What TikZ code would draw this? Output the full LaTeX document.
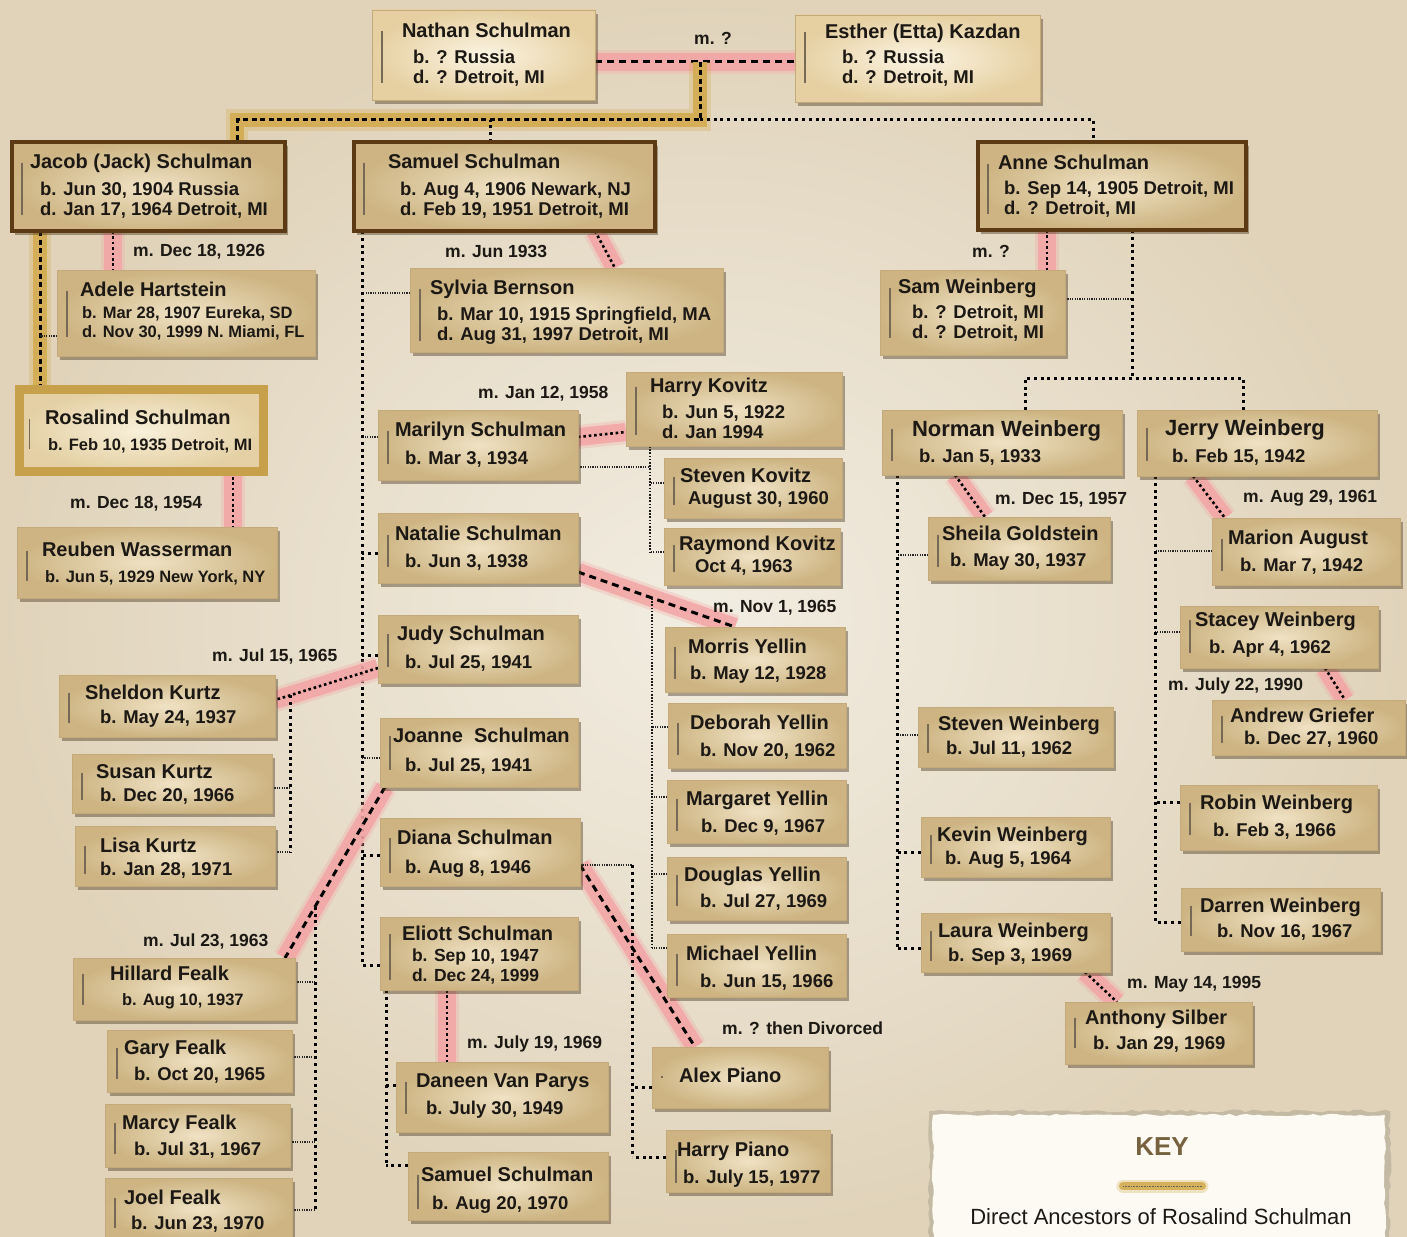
\documentclass[tikz,border=0pt]{standalone}
\usepackage{fontspec}
\setmainfont{Liberation Sans}
\usetikzlibrary{calc,shadows,decorations.pathmorphing}
\pgfdeclarelayer{paper}
\pgfdeclarelayer{links}
\pgfsetlayers{paper,links,main}
\definecolor{paperlight}{RGB}{242,237,226}
\definecolor{paperdark}{RGB}{224,211,186}
\definecolor{boxin}{RGB}{239,226,196}
\definecolor{boxout}{RGB}{205,180,130}
\definecolor{boxedge}{RGB}{196,170,122}
\definecolor{topin}{RGB}{251,244,226}
\definecolor{topout}{RGB}{230,208,162}
\definecolor{rosin}{RGB}{248,240,218}
\definecolor{rosout}{RGB}{228,208,164}
\definecolor{brownb}{RGB}{92,58,20}
\definecolor{goldb}{RGB}{198,160,74}
\definecolor{mpink}{RGB}{243,165,165}
\definecolor{goldln}{RGB}{212,172,80}
\definecolor{ink}{RGB}{28,24,20}
\definecolor{barc}{RGB}{118,106,86}
\definecolor{keyfill}{RGB}{252,250,242}
\definecolor{keytitle}{RGB}{118,98,62}
\newcommand\nm[1]{{\fontsize{20}{22}\selectfont #1}}
\newcommand\nmL[1]{{\fontsize{22}{24}\selectfont #1}}
\newcommand\indt[1]{\hspace*{#1pt}}
% id, style, x,y, w, h, dx, dy, text options, content
\newcommand\person[9]{%
  \node[#2,minimum width=#4pt,minimum height=#5pt,anchor=north west] (#1) at (#3) {};
  \node[ptext,#8,anchor=north west] (#1-t) at ($(#1.north west)+(#6,#7)$) {#9};
  \draw[bar] ($(#1-t.north -| #1.west)+(10,8)$) -- ($(#1-t.south -| #1.west)+(10,-4)$);
}
% style, bus coordinate, child node, anchor, yshift
\newcommand\kid[5]{%
  \coordinate (k-#3) at ([yshift=#5pt]#3.#4);
  \draw[#1] (k-#3) -- (#2 |- k-#3);
}
\begin{document}
\begin{tikzpicture}[x=1pt,y=-1pt,
  pshadow/.style={drop shadow={shadow xshift=3pt,shadow yshift=-4pt,opacity=.45,fill={rgb,255:red,80;green,62;blue,35}}},
  pbox/.style={inner color=boxin,outer color=boxout,draw=boxedge,line width=.6pt,inner sep=0pt,outer sep=0pt,pshadow},
  pboxtop/.style={pbox,inner color=topin,outer color=topout},
  pboxbrown/.style={pbox,draw=brownb,line width=4.5pt},
  pboxgold/.style={pbox,draw=goldb,line width=9pt,inner color=rosin,outer color=rosout},
  ptext/.style={inner sep=0pt,outer sep=0pt,align=left,text=ink,font=\bfseries\fontsize{18.5}{20}\selectfont},
  ds/.style={font=\bfseries\fontsize{16.5}{19.5}\selectfont},
  de/.style={font=\bfseries\fontsize{17.5}{20}\selectfont},
  bar/.style={draw=barc,line width=1.1pt},
  mlab/.style={inner sep=0pt,anchor=west,text=ink,font=\bfseries\fontsize{17.5}{20}\selectfont},
  marr/.style={preaction={draw=mpink,line width=24pt,solid,draw opacity=.3,line cap=butt},
               preaction={draw=mpink,line width=18pt,solid,draw opacity=.85,line cap=butt},
               draw=black,line width=2.6pt,dash pattern=on 2.6pt off 2.8pt},
  marrdash/.style={marr,line width=3pt,dash pattern=on 7pt off 5pt},
  gold/.style={preaction={draw=goldln,line width=22pt,solid,draw opacity=.3},
               preaction={draw=goldln,line width=14pt,solid,draw opacity=.9},
               draw=black,line width=3pt,dash pattern=on 5pt off 3.5pt},
  goldk/.style={preaction={draw=goldln,line width=13pt,solid,draw opacity=.3,line cap=round},
               preaction={draw=goldln,line width=8pt,solid,draw opacity=.9,line cap=round},
               draw=black!60,line width=1pt,dash pattern=on .8pt off .8pt},
  bus/.style={draw=black,line width=3pt,dash pattern=on 3pt off 3.8pt},
  bus2/.style={draw=black!90,line width=2.5pt,dash pattern=on 1.6pt off 1.6pt},
  tick/.style={draw=black!85,line width=1.8pt,dash pattern=on 1.2pt off 1.2pt},
]
\useasboundingbox (0,0) rectangle (1407,1236);
\begin{pgfonlayer}{paper}
  \shade[inner color=paperlight,outer color=paperdark] (0,0) rectangle (1407,1236);
\end{pgfonlayer}

% ---------- generation 1
\person{nathan}{pboxtop}{372,10}{223}{90}{30}{13.5}{}{\nm{Nathan Schulman}\\[6pt]\indt{11}b. ? Russia\\\indt{11}d. ? Detroit, MI}
\person{esther}{pboxtop}{795,15}{245}{87}{30}{9.5}{}{\nm{Esther (Etta) Kazdan}\\[5pt]\indt{17}b. ? Russia\\\indt{17}d. ? Detroit, MI}

% ---------- generation 2
\person{jacob}{pboxbrown}{12,142}{273}{89}{18}{12.5}{}{\nm{Jacob (Jack) Schulman}\\[7pt]\indt{10}b. Jun 30, 1904 Russia\\\indt{10}d. Jan 17, 1964 Detroit, MI}
\person{samuel}{pboxbrown}{354,142}{301}{89}{34}{12.5}{}{\nm{Samuel Schulman}\\[7pt]\indt{12}b. Aug 4, 1906 Newark, NJ\\\indt{12}d. Feb 19, 1951 Detroit, MI}
\person{anne}{pboxbrown}{978,142}{268}{88}{20}{13.5}{}{\nm{Anne Schulman}\\[5pt]\indt{6}b. Sep 14, 1905 Detroit, MI\\\indt{6}d. ? Detroit, MI}
\person{adele}{pbox}{57,270}{258}{86}{23}{12.5}{ds}{\nm{Adele Hartstein}\\[2pt]\indt{2}b. Mar 28, 1907 Eureka, SD\\\indt{2}d. Nov 30, 1999 N. Miami, FL}
\person{sylvia}{pbox}{410,268}{313}{84}{20}{12.5}{}{\nm{Sylvia Bernson}\\[6pt]\indt{7}b. Mar 10, 1915 Springfield, MA\\\indt{7}d. Aug 31, 1997 Detroit, MI}
\person{samw}{pbox}{880,270}{185}{85}{18}{9.5}{}{\nm{Sam Weinberg}\\[5pt]\indt{14}b. ? Detroit, MI\\\indt{14}d. ? Detroit, MI}

% ---------- generation 3, left
\person{rosalind}{pboxgold}{19.5,389.5}{244}{82}{25.5}{21}{ds}{\nm{Rosalind Schulman}\\[6pt]\indt{3}b. Feb 10, 1935 Detroit, MI}
\person{reuben}{pbox}{17,527}{260}{71}{25}{15.5}{ds}{\nm{Reuben Wasserman}\\[6pt]\indt{3}b. Jun 5, 1929 New York, NY}

% ---------- Samuel's children
\person{marilyn}{pbox}{378,410}{200}{70}{17}{12.5}{}{\nm{Marilyn Schulman}\\[8pt]\indt{10}b. Mar 3, 1934}
\person{natalie}{pbox}{378,513}{200}{70}{17}{13.5}{}{\nm{Natalie Schulman}\\[7pt]\indt{10}b. Jun 3, 1938}
\person{judy}{pbox}{378,615}{200}{68}{19}{10.5}{}{\nm{Judy Schulman}\\[8pt]\indt{8}b. Jul 25, 1941}
\person{joanne}{pbox}{380,718}{198}{69}{13}{9.5}{}{\nm{Joanne\ \ Schulman}\\[9pt]\indt{12}b. Jul 25, 1941}
\person{diana}{pbox}{380,818}{200}{68}{17}{11.5}{}{\nm{Diana Schulman}\\[9pt]\indt{8}b. Aug 8, 1946}
\person{eliott}{pbox}{380,917}{198}{73}{22}{8.5}{de}{\nm{Eliott Schulman}\\[1pt]\indt{10}b. Sep 10, 1947\\\indt{10}d. Dec 24, 1999}
\person{daneen}{pbox}{396,1062}{212}{70}{20}{11.5}{}{\nm{Daneen Van Parys}\\[7pt]\indt{10}b. July 30, 1949}
\person{samuel2}{pbox}{408,1152}{200}{68}{13}{14.5}{}{\nm{Samuel Schulman}\\[8pt]\indt{11}b. Aug 20, 1970}

% ---------- Kovitz
\person{harryk}{pbox}{626,372}{216}{74}{24}{6.5}{}{\nm{Harry Kovitz}\\[6pt]\indt{12}b. Jun 5, 1922\\\indt{12}d. Jan 1994}
\person{stevenk}{pbox}{664,458}{178}{60}{16}{10.5}{}{\nm{Steven Kovitz}\\[2pt]\indt{8}August 30, 1960}
\person{raymond}{pbox}{664,528}{176}{57}{15}{8.5}{}{\nm{Raymond Kovitz}\\[2pt]\indt{16}Oct 4, 1963}

% ---------- Yellin
\person{morris}{pbox}{665,627}{180}{65}{23}{11.5}{}{\nm{Morris Yellin}\\[6pt]\indt{2}b. May 12, 1928}
\person{deborah}{pbox}{668,703}{178}{65}{22}{11.5}{}{\nm{Deborah Yellin}\\[7pt]\indt{10}b. Nov 20, 1962}
\person{margaret}{pbox}{667,780}{179}{63}{19}{10.5}{}{\nm{Margaret Yellin}\\[7pt]\indt{15}b. Dec 9, 1967}
\person{douglas}{pbox}{667,857}{179}{63}{17}{9.5}{}{\nm{Douglas Yellin}\\[6pt]\indt{16}b. Jul 27, 1969}
\person{michael}{pbox}{667,934}{179}{63}{19}{11.5}{}{\nm{Michael Yellin}\\[7pt]\indt{14}b. Jun 15, 1966}

% ---------- Piano
\person{alex}{pbox}{652,1047}{176}{61}{27}{20.5}{}{\nm{Alex Piano}}
\person{harryp}{pbox}{666,1130}{164}{62}{11}{11.5}{}{\nm{Harry Piano}\\[7pt]\indt{6}b. July 15, 1977}

% ---------- Kurtz
\person{sheldon}{pbox}{59,675}{216}{62}{26}{9.5}{}{\nm{Sheldon Kurtz}\\[4pt]\indt{15}b. May 24, 1937}
\person{susan}{pbox}{72,754}{200}{59}{24}{10.5}{}{\nm{Susan Kurtz}\\[3pt]\indt{4}b. Dec 20, 1966}
\person{lisa}{pbox}{75,826}{200}{60}{25}{11.5}{}{\nm{Lisa Kurtz}\\[3pt]b. Jan 28, 1971}

% ---------- Fealk
\person{hillard}{pbox}{73,958}{222}{62}{37}{7.5}{ds}{\nm{Hillard Fealk}\\[6pt]\indt{12}b. Aug 10, 1937}
\person{gary}{pbox}{107,1030}{185}{62}{17}{9.5}{}{\nm{Gary Fealk}\\[6pt]\indt{10}b. Oct 20, 1965}
\person{marcy}{pbox}{105,1104}{185}{63}{17}{10.5}{}{\nm{Marcy Fealk}\\[6pt]\indt{12}b. Jul 31, 1967}
\person{joel}{pbox}{105,1178}{187}{62}{19}{11.5}{}{\nm{Joel Fealk}\\[5pt]\indt{7}b. Jun 23, 1970}

% ---------- Weinberg
\person{norman}{pbox}{882,410}{240}{65}{30}{10.5}{}{\nmL{Norman Weinberg}\\[6pt]\indt{7}b. Jan 5, 1933}
\person{jerry}{pbox}{1137,410}{240}{66}{28}{9.5}{}{\nmL{Jerry Weinberg}\\[7pt]\indt{7}b. Feb 15, 1942}
\person{sheila}{pbox}{928,517}{182}{63}{14}{9.5}{}{\nm{Sheila Goldstein}\\[6pt]\indt{8}b. May 30, 1937}
\person{stevenw}{pbox}{918,707}{195}{60}{20}{8.5}{}{\nm{Steven Weinberg}\\[4pt]\indt{8}b. Jul 11, 1962}
\person{kevin}{pbox}{921,817}{189}{60}{16}{9.5}{}{\nm{Kevin Weinberg}\\[3pt]\indt{8}b. Aug 5, 1964}
\person{laura}{pbox}{921,913}{189}{59}{17}{9.5}{}{\nm{Laura Weinberg}\\[4pt]\indt{10}b. Sep 3, 1969}
\person{anthony}{pbox}{1065,1002}{187}{62}{20}{7.5}{}{\nm{Anthony Silber}\\[5pt]\indt{8}b. Jan 29, 1969}
\person{marion}{pbox}{1212,518}{188}{67}{16}{12.5}{}{\nm{Marion August}\\[7pt]\indt{12}b. Mar 7, 1942}
\person{stacey}{pbox}{1180,606}{198}{62}{15}{5.5}{}{\nm{Stacey Weinberg}\\[7pt]\indt{14}b. Apr 4, 1962}
\person{andrew}{pbox}{1212,700}{193}{55}{18}{7.5}{}{\nm{Andrew Griefer}\\[2pt]\indt{14}b. Dec 27, 1960}
\person{robin}{pbox}{1180,785}{197}{65}{20}{9.5}{}{\nm{Robin Weinberg}\\[7pt]\indt{13}b. Feb 3, 1966}
\person{darren}{pbox}{1181,888}{199}{63}{19}{9.5}{}{\nm{Darren Weinberg}\\[5pt]\indt{17}b. Nov 16, 1967}

% ---------- marriage labels
\node[mlab] (l1) at (694,38) {m. ?};
\node[mlab] (l2) at (133,252) {m. Dec 18, 1926};
\node[mlab] (l3) at (445,251) {m. Jun 1933};
\node[mlab] (l4) at (972,251) {m. ?};
\node[mlab] (l5) at (70,504) {m. Dec 18, 1954};
\node[mlab] (l6) at (478,394) {m. Jan 12, 1958};
\node[mlab] (l7) at (713,608) {m. Nov 1, 1965};
\node[mlab] (l8) at (212,657) {m. Jul 15, 1965};
\node[mlab] (l9) at (143,942) {m. Jul 23, 1963};
\node[mlab] (l10) at (722,1028) {m. ? then Divorced};
\node[mlab] (l11) at (467,1044) {m. July 19, 1969};
\node[mlab] (l12) at (995,500) {m. Dec 15, 1957};
\node[mlab] (l13) at (1243,498) {m. Aug 29, 1961};
\node[mlab] (l14) at (1168,686) {m. July 22, 1990};
\node[mlab] (l15) at (1127,984) {m. May 14, 1995};

% ---------- key
\pgfmathsetseed{11}
\fill[black,opacity=.12,decorate,decoration={random steps,segment length=6pt,amplitude=1.5pt}] (929,1111) rectangle (1390,1245);
\fill[keyfill,decorate,decoration={random steps,segment length=6pt,amplitude=1.2pt}] (933,1115) rectangle (1385,1245);
\node[inner sep=0pt,text=keytitle,font=\bfseries\fontsize{26}{28}\selectfont] (keyt) at (1162,1147) {KEY};
\coordinate (kl) at (1123,1186);
\coordinate (kr) at (1202,1186);
\draw[goldk] (kl) -- (kr);
\node[inner sep=0pt,text=ink,font=\fontsize{22}{24}\selectfont] (keyx) at (1161,1217) {Direct Ancestors of Rosalind Schulman};

% ---------- connectors
\begin{pgfonlayer}{links}
  % Nathan + Esther
  \coordinate (ne) at ([yshift=-7pt]nathan.east);
  \coordinate (ew) at ([yshift=-3.5pt]esther.west);
  \coordinate (m1) at ($(ne)!0.525!(ew)$);
  \draw[marrdash] (ne) -- (ew);
  \coordinate (g1) at ([xshift=225pt,yshift=22pt]jacob.north west);
  \coordinate (jtop) at ([xshift=225pt]jacob.north west);
  \draw[gold] (m1) |- (g1) -- (jtop);
  \coordinate (atop) at ([xshift=115pt]anne.north west);
  \draw[bus] (m1 |- g1) -| (atop);
  \coordinate (stop) at ([xshift=136pt]samuel.north west);
  \draw[bus] (stop) -- (stop |- g1);
  % Jacob + Adele
  \coordinate (ja) at ([xshift=101pt]jacob.south west);
  \draw[marr] (ja) -- (ja |- adele.north);
  \coordinate (jr) at ([xshift=28pt]jacob.south west);
  \draw[gold] (jr) -- (jr |- rosalind.north);
  \kid{tick}{jr}{adele}{west}{-23}
  % Rosalind + Reuben
  \coordinate (rr) at ([xshift=213.5pt]rosalind.south west);
  \draw[marr] (rr) -- (rr |- reuben.north);
  % Samuel + Sylvia
  \draw[marr] ([xshift=241pt]samuel.south west) -- ([xshift=205pt]sylvia.north west);
  \coordinate (sb) at ([xshift=8pt]samuel.south west);
  \kid{tick}{sb}{sylvia}{west}{17}
  \kid{tick}{sb}{marilyn}{west}{8}
  \kid{bus}{sb}{natalie}{west}{-5}
  \kid{bus}{sb}{judy}{west}{-6}
  \kid{tick}{sb}{joanne}{west}{-5.5}
  \kid{bus}{sb}{diana}{west}{-3}
  \kid{bus}{sb}{eliott}{west}{-11.5}
  \draw[bus] (sb) -- (sb |- k-eliott);
  % Marilyn + Harry Kovitz
  \draw[marr] ([yshift=8pt]marilyn.east) -- ([yshift=-23pt]harryk.west);
  \coordinate (kb) at ([xshift=24pt]harryk.south west);
  \coordinate (mk) at ([yshift=-22pt]marilyn.east);
  \draw[tick] (mk) -- (kb |- mk);
  \kid{tick}{kb}{stevenk}{west}{5}
  \kid{tick}{kb}{raymond}{west}{4.5}
  \draw[bus2] (kb) -- (kb |- k-raymond);
  % Natalie + Morris
  \coordinate (na) at ([yshift=-24pt]natalie.east);
  \coordinate (mo) at ([xshift=70pt]morris.north west);
  \draw[marrdash] (na) -- (mo);
  \coordinate (nb) at ($(na)!0.471!(mo)$);
  \kid{tick}{nb}{deborah}{west}{8.5}
  \kid{tick}{nb}{margaret}{west}{14.5}
  \kid{tick}{nb}{douglas}{west}{14.5}
  \kid{tick}{nb}{michael}{west}{17.5}
  \draw[bus2] (nb) -- (nb |- k-michael);
  % Judy + Sheldon
  \coordinate (ju) at ([yshift=-19pt]judy.west);
  \coordinate (sh) at ([yshift=6pt]sheldon.east);
  \draw[marr] (ju) -- (sh);
  \coordinate (skb) at ($(ju)!0.854!(sh)$);
  \kid{tick}{skb}{susan}{east}{-4.5}
  \kid{tick}{skb}{lisa}{east}{4}
  \draw[bus] (skb) -- (skb |- k-lisa);
  % Joanne + Hillard
  \coordinate (jo) at ([xshift=5pt]joanne.south west);
  \coordinate (hi) at ([xshift=-10pt]hillard.north east);
  \draw[marrdash] (jo) -- (hi);
  \coordinate (hb) at ($(jo)!0.7!(hi)$);
  \kid{tick}{hb}{hillard}{east}{7}
  \kid{tick}{hb}{gary}{east}{4}
  \kid{tick}{hb}{marcy}{east}{-6.5}
  \kid{tick}{hb}{joel}{east}{-1}
  \draw[bus] (hb) -- (hb |- k-joel);
  % Diana + Alex
  \coordinate (di) at ([yshift=-13pt]diana.east);
  \coordinate (al) at ([xshift=43pt]alex.north west);
  \draw[marrdash] (di) -- (al);
  \coordinate (db) at ([xshift=52pt]di);
  \draw[tick] (di) -- (db);
  \kid{bus}{db}{alex}{west}{-9.5}
  \kid{bus}{db}{harryp}{west}{4}
  \draw[bus] (db) -- (db |- k-harryp);
  % Eliott + Daneen
  \coordinate (ed) at ([xshift=67pt]eliott.south west);
  \draw[marr] (ed) -- (ed |- daneen.north);
  \coordinate (eb) at ([xshift=6pt]eliott.south west);
  \kid{bus}{eb}{daneen}{west}{12}
  \kid{bus}{eb}{samuel2}{west}{21}
  \draw[bus] (eb) -- (eb |- k-samuel2);
  % Anne + Sam
  \coordinate (as) at ([xshift=69pt]anne.south west);
  \draw[marr] (as) -- (as |- samw.north);
  \coordinate (ab) at ([xshift=154pt]anne.south west);
  \kid{tick}{ab}{samw}{east}{13.5}
  \coordinate (nt) at ([xshift=143pt]norman.north west);
  \coordinate (jt) at ([xshift=106pt]jerry.north west);
  \coordinate (hz) at ([yshift=32pt]nt);
  \draw[bus] (ab) -- (ab |- hz);
  \draw[bus] (nt) |- (jt |- hz) -- (jt);
  % Norman + Sheila
  \draw[marr] ([xshift=73pt]norman.south west) -- ([xshift=57pt]sheila.north west);
  \coordinate (nwb) at ([xshift=15pt]norman.south west);
  \kid{tick}{nwb}{sheila}{west}{-6.5}
  \kid{tick}{nwb}{stevenw}{west}{2}
  \kid{bus}{nwb}{kevin}{west}{-5}
  \kid{bus}{nwb}{laura}{west}{-5.5}
  \draw[bus] (nwb) -- (nwb |- k-laura);
  \draw[marr] ([xshift=164pt]laura.south west) -- ([xshift=52pt]anthony.north west);
  % Jerry + Marion
  \draw[marr] ([xshift=56pt]jerry.south west) -- ([xshift=13pt]marion.north west);
  \coordinate (jwb) at ([xshift=18pt]jerry.south west);
  \kid{tick}{jwb}{marion}{west}{0.5}
  \kid{tick}{jwb}{stacey}{west}{5}
  \kid{bus}{jwb}{robin}{west}{15.5}
  \kid{bus}{jwb}{darren}{west}{-2.5}
  \draw[bus] (jwb) -- (jwb |- k-darren);
  \draw[marr] ([xshift=145pt]stacey.south west) -- ([xshift=133pt]andrew.north west);
\end{pgfonlayer}
\end{tikzpicture}
\end{document}
